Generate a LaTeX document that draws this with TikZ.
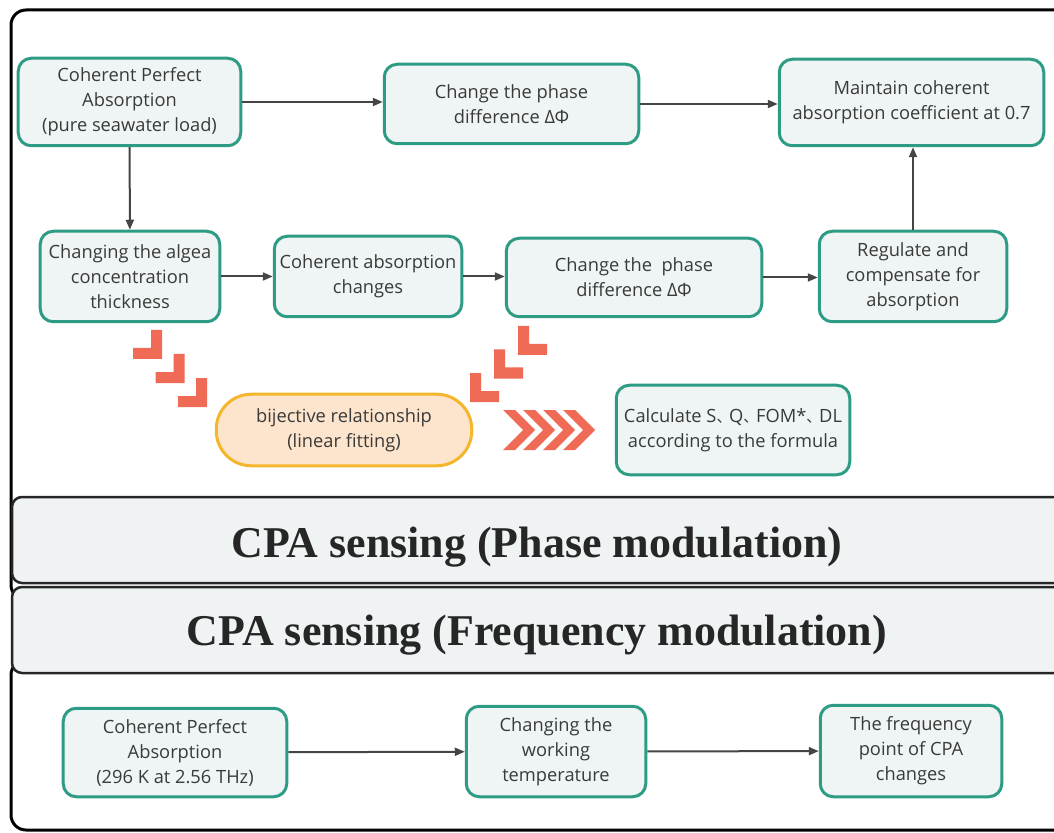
\documentclass[tikz,border=0pt]{standalone}
\usepackage{fontspec}
\setmainfont{Open Sans}
\newfontfamily\bannerfont{Liberation Serif}
\newfontfamily\cjk{Noto Sans CJK SC}
\newcommand\ideocomma{{\cjk\fontsize{8.5}{10}\selectfont 、}\hspace{-0.12em}}
\usepackage{tikz}
\usetikzlibrary{arrows.meta}
\definecolor{boxline}{HTML}{2E9C84}
\definecolor{boxfill}{HTML}{EFF4F4}
\definecolor{textgray}{HTML}{3A3A3A}
\definecolor{arrowgray}{HTML}{454545}
\definecolor{chevron}{HTML}{EF6B55}
\definecolor{fitfill}{HTML}{FDE4CC}
\definecolor{fitline}{HTML}{F4B62A}
\definecolor{bannerfill}{HTML}{EFF3F4}

\begin{document}
\begin{tikzpicture}[x=0.2mm, y=-0.2mm,
    stepbox/.style = {draw=boxline, line width=0.6mm, fill=boxfill, rounded corners=2.6mm,
        align=center, text=textgray, inner sep=0pt, font=\fontsize{10.4}{14.2}\selectfont},
    boxsize/.style 2 args = {minimum width=#1, minimum height=#2},
    fitbox/.style = {stepbox, draw=fitline, fill=fitfill, rounded corners=7mm},
    flow/.style = {draw=arrowgray, line width=0.4mm, -{Triangle[length=2mm, width=1.6mm]}},
    frame/.style = {draw=black, line width=0.6mm, rounded corners=3mm},
    banner/.style = {draw=black!85, line width=0.5mm, fill=bannerfill, rounded corners=2mm},
    bannertext/.style = {text=black!85, font=\bannerfont\bfseries\fontsize{25}{30}\selectfont}]
    \clip (0,0) rectangle (1054,833);
    \fill[white] (0,0) rectangle (1054,833);

    % frames and banners
    \draw[frame] (11,10) rectangle (1090,600);
    \draw[frame] (11,660) rectangle (1090,830);
    \draw[banner] (12,497) rectangle (1090,583);
    \draw[banner] (12,587) rectangle (1090,673);
    \node[bannertext, anchor=base] (phase) at (537,557) {CPA sensing (Phase modulation)};
    \node[bannertext, anchor=base] (freq) at (537,645) {CPA sensing (Frequency modulation)};

    % phase modulation
    \node[stepbox, boxsize={44.5mm}{17.5mm}] (cpa) at (129.5,102) {Coherent Perfect\\Absorption\\(pure seawater load)};
    \node[stepbox, boxsize={50.9mm}{15.9mm}] (phase1) at (511.5,104) {Change the phase\\difference ΔΦ};
    \node[stepbox, boxsize={52.9mm}{17.3mm}] (keep) at (911.5,102.5) {Maintain coherent\\absorption coefficient at 0.7};
    \node[stepbox, boxsize={35.9mm}{18.1mm}] (algea) at (130,276.5) {Changing the algea\\concentration\\thickness};
    \node[stepbox, boxsize={37.5mm}{16.1mm}] (absorb) at (368,276.5) {Coherent absorption\\changes};
    \node[stepbox, boxsize={51.1mm}{15.7mm}] (phase2) at (634,277.5) {Change the\ \ phase\\difference ΔΦ};
    \node[stepbox, boxsize={37.5mm}{18.1mm}] (regulate) at (913,276.5) {Regulate and\\compensate for\\absorption};
    \node[fitbox, boxsize={51.1mm}{14.3mm}] (fit) at (344,430) {bijective relationship\\(linear fitting)};
    \node[stepbox, boxsize={46.7mm}{17.9mm}] (calc) at (733,430) {Calculate S\ideocomma Q\ideocomma FOM*\ideocomma DL\\according to the formula};

    \draw[flow] (cpa.east) -- (cpa.east -| phase1.west);
    \draw[flow] (phase1.east) -- (phase1.east -| keep.west);
    \draw[flow] (cpa) -- (algea);
    \draw[flow] (algea.east) -- (algea.east -| absorb.west);
    \draw[flow] (absorb.east) -- (absorb.east -| phase2.west);
    \draw[flow] (phase2.east) -- (phase2.east -| regulate.west);
    \draw[flow] (regulate) -- (regulate |- keep.south);

    % chevrons
    \foreach \cx/\cy in {162/359, 184.5/383, 207/407}
        \fill[chevron] (\cx-29,\cy-11) -- (\cx-11,\cy-11) -- (\cx-11,\cy-29) -- (\cx,\cy-29)
            -- (\cx,\cy) -- (\cx-29,\cy) -- cycle;
    \foreach \cx/\cy in {518/355, 494/378.5, 470/402}
        \fill[chevron] (\cx,\cy-29) -- (\cx+11,\cy-29) -- (\cx+11,\cy-11) -- (\cx+29,\cy-11)
            -- (\cx+29,\cy) -- (\cx,\cy) -- cycle;
    \foreach \k in {0,...,3}
        \fill[chevron] (503+\k*20,410) -- (515+\k*20,410) -- (535+\k*20,430) -- (515+\k*20,450)
            -- (503+\k*20,450) -- (523+\k*20,430) -- cycle;

    % frequency modulation
    \node[stepbox, boxsize={44.7mm}{17.7mm}] (cpa2) at (175,752.5) {Coherent Perfect\\Absorption\\(296 K at 2.56 THz)};
    \node[stepbox, boxsize={35.9mm}{18.1mm}] (temp) at (556,751.5) {Changing the\\working\\temperature};
    \node[stepbox, boxsize={36.3mm}{18.3mm}] (shift) at (911,751) {The frequency\\point of CPA\\changes};

    \draw[flow] (cpa2) -- (temp);
    \draw[flow] (temp) -- (shift);
\end{tikzpicture}
\end{document}
